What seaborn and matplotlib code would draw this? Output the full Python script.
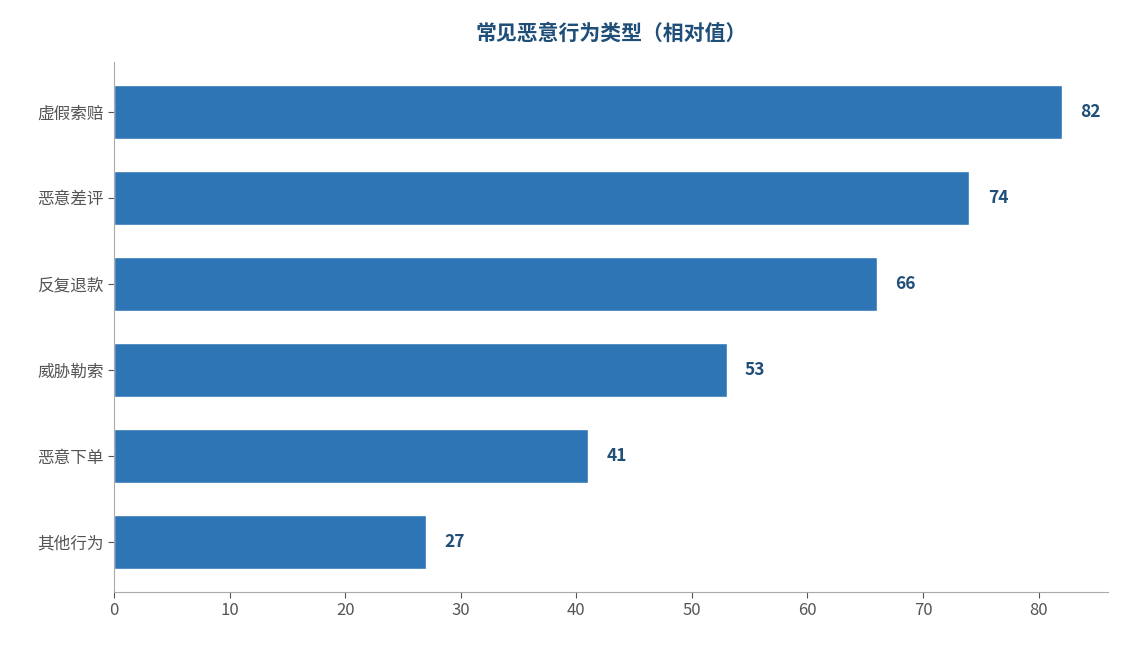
import matplotlib
matplotlib.use("Agg")
import matplotlib.pyplot as plt
import seaborn as sns
import pandas as pd

categories = ["虚假索赔", "恶意差评", "反复退款", "威胁勒索", "恶意下单", "其他行为"]
values = [82, 74, 66, 53, 41, 27]

sns.set_style("white")
plt.rcParams['font.family'] = ['Noto Sans CJK SC', 'DejaVu Sans']

df = pd.DataFrame({"类型": categories, "值": values})

fig = plt.figure(figsize=(11.24, 6.45), dpi=100)
ax = fig.add_axes([114/1124, 1-592/645, (1108-114)/1124, (592-62)/645])
sns.barplot(data=df, x="值", y="类型", color="#2E75B6", saturation=1, width=0.62, ax=ax)

for i, v in enumerate(values):
    ax.text(v + 1.6, i, str(v), va="center", ha="left", fontsize=12.5,
            fontweight="bold", color="#1F4E79")

ax.set_xlim(0, 86)
ax.set_ylim(5.58, -0.58)
ax.set_xlabel("")
ax.set_ylabel("")
ax.tick_params(axis="both", labelsize=12, colors="#555555", length=4, left=True, bottom=True)
for s in ["top", "right"]:
    ax.spines[s].set_visible(False)
for s in ["left", "bottom"]:
    ax.spines[s].set_color("#AAAAAA")
ax.set_title("常见恶意行为类型（相对值）", fontsize=15, fontweight="bold", color="#1F4E79", pad=16)

fig.savefig("out.png", dpi=100)
